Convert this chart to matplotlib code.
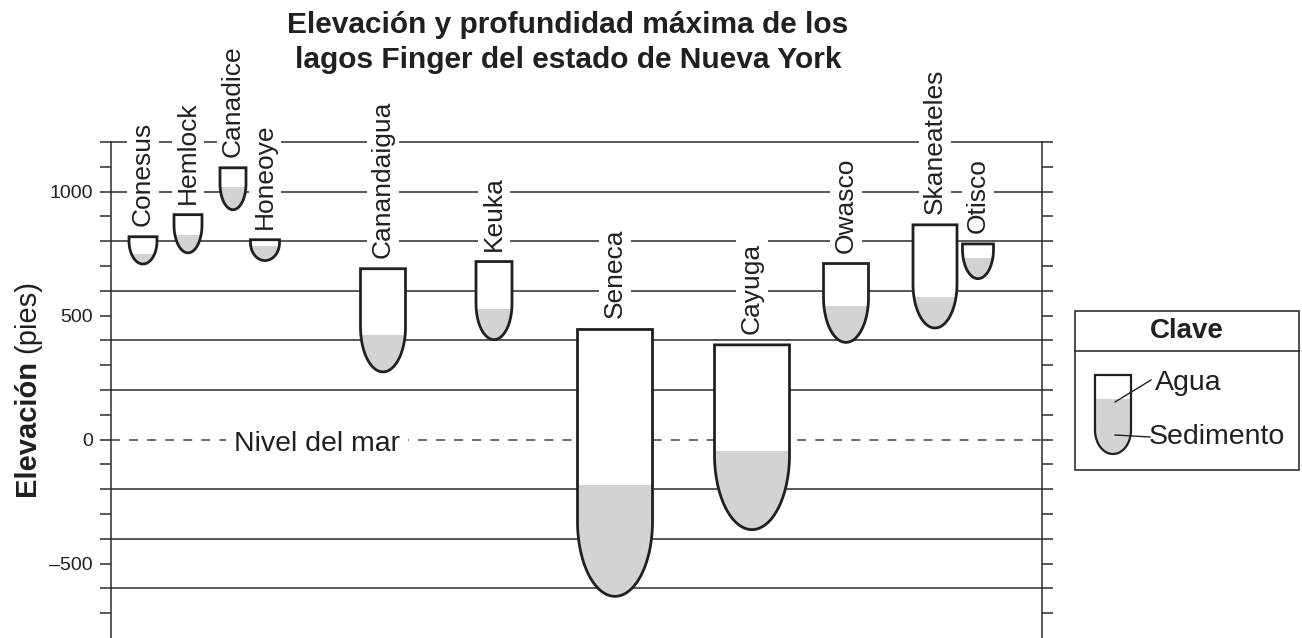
import matplotlib; matplotlib.use('Agg')
import matplotlib.pyplot as plt, numpy as np
from matplotlib.path import Path
from matplotlib.patches import PathPatch, Rectangle

plt.rcParams.update({'font.family': ['Liberation Sans', 'DejaVu Sans'],
                     'lines.scale_dashes': False})
INK, GRID, SED = '#231f20', '#2b2b2b', '#d1d3d4'

lakes = ['Conesus', 'Hemlock', 'Canadice', 'Honeoye', 'Canandaigua', 'Keuka',
         'Seneca', 'Cayuga', 'Owasco', 'Skaneateles', 'Otisco']
surface = [818, 907, 1096, 806, 689, 718, 444, 382, 710, 866, 789]    # ft
sediment = [750, 824, 1017, 782, 422, 527, -184, -47, 538, 575, 733]  # top of sediment, ft
bottom = [708, 753, 927, 722, 273, 403, -632, -363, 392, 450, 649]    # deepest point, ft

tick_vals = [-500, 0, 500, 1000]
tick_text = ['\u2013500', '0', '500', '1000']

# layout: cup centre / width in pixels from the left spine
xpos = [32, 77, 122, 154, 272, 383, 504, 641, 735, 824, 867]
width = [28, 28, 26, 29, 45, 36, 75, 75, 45, 44, 31]

W, H = 1302, 638
AX_L, AX_R, AX_T = 111, 1042, 142
YMIN, YMAX = -800, 1200
FT_PER_PX = (YMAX - YMIN) / (H - AX_T)


def cup(ax, cx, w, top, bot, sed, curve, lw=2.0):
    hw = w / 2
    yc = bot + (curve if top > bot else -curve)
    t = np.linspace(0, np.pi, 80)
    arc = np.column_stack([cx + hw * np.cos(t), yc + (bot - yc) * np.sin(t)])
    verts = np.vstack([[cx - hw, top], [cx + hw, top], [cx + hw, yc], arc, [cx - hw, top]])
    path = Path(verts, closed=True)
    body = PathPatch(path, facecolor='white', edgecolor='none', zorder=3)
    ax.add_patch(body)
    mud = Rectangle((cx - hw - 2, min(sed, bot) - abs(curve)), w + 4,
                    abs(sed - bot) + abs(curve), facecolor=SED, edgecolor='none', zorder=3.1)
    ax.add_patch(mud)
    mud.set_clip_path(body)
    ax.add_patch(PathPatch(path, facecolor='none', edgecolor=INK, lw=lw,
                           joinstyle='miter', zorder=3.2))


fig = plt.figure(figsize=(W / 100, H / 100), dpi=100)
ax = fig.add_axes([AX_L / W, 0, (AX_R - AX_L) / W, (H - AX_T) / H])
ax.set_xlim(0, AX_R - AX_L)
ax.set_ylim(YMIN, YMAX)

for y in range(-600, 1201, 200):
    if y == 0:
        continue
    ax.axhline(y, color=GRID, lw=1.1, zorder=1, clip_on=False)
ax.plot([0, AX_R - AX_L], [0, 0], color='#444444', lw=1.1, ls=(0, (6.5, 6.5)), zorder=1)
ax.text(206, -11 * FT_PER_PX, 'Nivel del mar', fontsize=20.5, color=INK,
        ha='center', va='baseline', zorder=2,
        bbox=dict(facecolor='white', edgecolor='none', pad=6))

for name, cx, w, top, sed, bot in zip(lakes, xpos, width, surface, sediment, bottom):
    depth_px = (top - bot) / FT_PER_PX
    curve = min(0.85 * depth_px, 1.0 * w) * FT_PER_PX
    cup(ax, cx, w, top, bot, sed, curve)
    ax.text(cx, top + 11 * FT_PER_PX, name, rotation=90, ha='center', va='bottom',
            fontsize=19, color=INK, zorder=4,
            bbox=dict(facecolor='white', edgecolor='none', pad=3))

ax.set_yticks(np.arange(-700, 1201, 100))
ax.set_yticklabels([tick_text[tick_vals.index(v)] if v in tick_vals else ''
                    for v in range(-700, 1201, 100)])
ax.tick_params(axis='y', direction='out', length=8, width=1.1, color=GRID,
               left=True, right=True, labelsize=14, labelcolor=INK, pad=5)
ax.set_xticks([])
for side in ('top', 'bottom'):
    ax.spines[side].set_visible(False)
for side in ('left', 'right'):
    ax.spines[side].set_color(GRID)
    ax.spines[side].set_linewidth(1.1)

# overlay in pixel coordinates for title, axis label and key
ov = fig.add_axes([0, 0, 1, 1])
ov.set_xlim(0, W)
ov.set_ylim(H, 0)
ov.axis('off')

ov.text(568, 11, 'Elevación y profundidad máxima de los\nlagos Finger del estado de Nueva York',
        ha='center', va='top', fontsize=21.5, weight='bold', color=INK, linespacing=1.3)

t1 = ov.text(27, 496, 'Elevación', rotation=90, ha='center', va='bottom',
             fontsize=21, weight='bold', color=INK)
ov.annotate('(pies)', xy=(0.5, 1), xycoords=t1, xytext=(0, 5), textcoords='offset points',
            rotation=90, ha='center', va='bottom', fontsize=21, color=INK)

ov.add_patch(Rectangle((1075, 311), 224, 159, facecolor='white', edgecolor=INK, lw=1.1))
ov.plot([1075, 1299], [351, 351], color=INK, lw=1.1)
ov.text(1187, 331, 'Clave', ha='center', va='center', fontsize=20, weight='bold', color=INK)
cup(ov, 1113, 36, 375, 454, 423, 24, lw=1.6)
ov.plot([1115, 1151], [402, 380], color=INK, lw=1.0, zorder=5)
ov.plot([1115, 1150], [435, 437], color=INK, lw=1.0, zorder=5)
ov.text(1155, 383, 'Agua', ha='left', va='center', fontsize=20.5, color=INK)
ov.text(1149, 437, 'Sedimento', ha='left', va='center', fontsize=20.5, color=INK)

fig.savefig('out.png', dpi=100)
print('wrote out.png')
